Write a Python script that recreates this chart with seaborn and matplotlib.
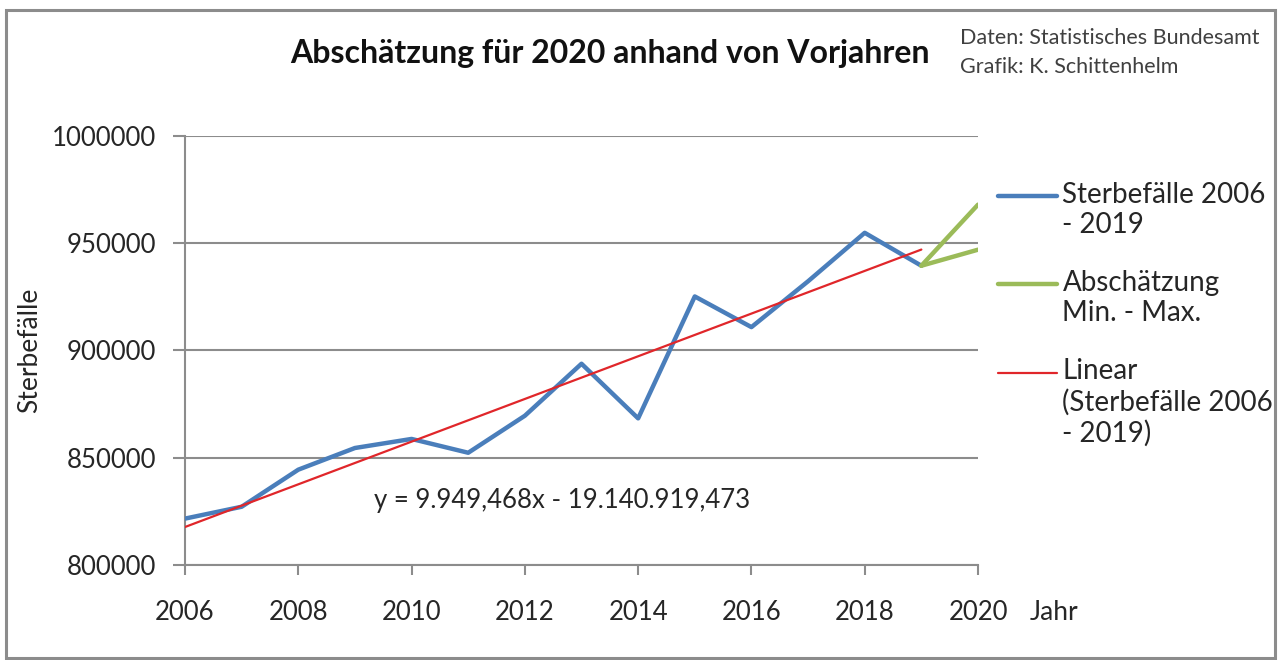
import numpy as np
import pandas as pd
import matplotlib
matplotlib.use("Agg")
import matplotlib.pyplot as plt
from matplotlib.patches import Rectangle
from matplotlib.ticker import MultipleLocator, FuncFormatter
import seaborn as sns

# Sterbefälle Deutschland 2006 - 2019
years = [2006, 2007, 2008, 2009, 2010, 2011, 2012, 2013, 2014, 2015, 2016, 2017, 2018, 2019]
deaths = [821627, 827155, 844439, 854544, 858768, 852328, 869582, 893825,
          868356, 925200, 910899, 932272, 954874, 939520]

# Abschätzung 2020 (Min. / Max.)
est_years = [2019, 2020]
est_min = [939520, 947000]
est_max = [939520, 968000]

equation = "y = 9.949,468x - 19.140.919,473"

sns.set_theme(style="ticks")
plt.rcParams['font.family'] = ['Lato', 'DejaVu Sans']

BLUE = "#4a7ebb"
GREEN = "#9bbb59"
RED = "#e0262a"
GRID = "#8c8c8c"
TXT = "#262626"
DPI = 100

fig = plt.figure(figsize=(12.78, 6.6), dpi=DPI)
ax = fig.add_axes([185 / 1278, 1 - 565 / 660, (978 - 185) / 1278, (565 - 136) / 660])

df = pd.DataFrame({"Jahr": years, "Sterbefaelle": deaths})

sns.lineplot(data=df, x="Jahr", y="Sterbefaelle", ax=ax, color=BLUE, lw=3.2,
             label="Sterbefälle 2006\n- 2019", zorder=3)
sns.lineplot(x=est_years, y=est_max, ax=ax, color=GREEN, lw=3.2,
             label="Abschätzung\nMin. - Max.", zorder=3)
sns.lineplot(x=est_years, y=est_min, ax=ax, color=GREEN, lw=3.2, zorder=3)
sns.regplot(data=df, x="Jahr", y="Sterbefaelle", ax=ax, scatter=False, ci=None,
            color=RED, line_kws={"lw": 1.6, "zorder": 4},
            label="Linear\n(Sterbefälle 2006\n- 2019)")

ax.set_xlim(2006, 2020)
ax.set_ylim(800000, 1000000)
ax.xaxis.set_major_locator(MultipleLocator(2))
ax.yaxis.set_major_locator(MultipleLocator(50000))
ax.yaxis.set_major_formatter(FuncFormatter(lambda v, p: f"{int(v)}"))
ax.grid(axis="y", color=GRID, lw=1.5)
ax.set_axisbelow(True)
for s in ["top", "right"]:
    ax.spines[s].set_visible(False)
for s in ["left", "bottom"]:
    ax.spines[s].set_color(GRID)
    ax.spines[s].set_linewidth(1.5)
ax.tick_params(axis="both", which="major", color=GRID, width=1.5, labelsize=18.5,
               labelcolor=TXT, bottom=True, left=True)
ax.tick_params(axis="x", direction="out", length=7, pad=18)
ax.tick_params(axis="y", direction="out", length=9, pad=12)
ax.set_xlabel("")
ax.set_ylabel("Sterbefälle", fontsize=19, color=TXT)
ax.yaxis.set_label_coords((42 - 185) / 793, 0.5)

ax.text(2012.65, 830300, equation, fontsize=18.5, color=TXT, va="center", ha="center")

ax.get_legend().remove()
handles, labels = ax.get_legend_handles_labels()
leg = fig.legend(handles, labels, loc="upper left",
                 bbox_to_anchor=(998 / 1278, 1 - 182 / 660),
                 frameon=False, fontsize=20, handlelength=2.12, handletextpad=0.2,
                 labelspacing=1.15, labelcolor=TXT, borderpad=0, borderaxespad=0)

# handle on the first text line (like Excel)
fig.canvas.draw()
r = fig.canvas.get_renderer()
for line, t in zip(leg.get_lines(), leg.get_texts()):
    n = t.get_text().count("\n") + 1
    tb = t.get_window_extent(r)
    first_y = tb.y1 - tb.height / n / 2
    lb = line.get_window_extent(r)
    delta = first_y - (lb.y0 + lb.y1) / 2
    yd = np.asarray(line.get_ydata(), dtype=float)
    line.set_ydata(yd + delta * 72 / DPI)

fig.text(1030 / 1278, 1 - 613 / 660, "Jahr", fontsize=19, color=TXT, va="center")
fig.text(610 / 1278, 1 - 53 / 660, "Abschätzung für 2020 anhand von Vorjahren",
         fontsize=23, fontweight="bold", color="#111111", ha="center", va="center")
fig.text(960 / 1278, 1 - 38 / 660, "Daten: Statistisches Bundesamt", fontsize=15.5,
         color="#404040", va="center")
fig.text(960 / 1278, 1 - 67 / 660, "Grafik: K. Schittenhelm", fontsize=15.5,
         color="#404040", va="center")

fig.patches.append(Rectangle((6 / 1278, 2 / 660), 1269 / 1278, 648 / 660,
                             transform=fig.transFigure, fill=False,
                             edgecolor="#8c8c8c", lw=2.2))

fig.savefig("out.png", dpi=DPI)
